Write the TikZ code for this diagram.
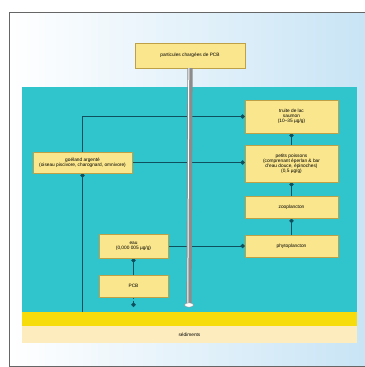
\documentclass[tikz,border=0pt]{standalone}
\usepackage{fontspec}
\setmainfont{Liberation Sans}
\usepackage{tikz}
\usetikzlibrary{arrows.meta, calc, backgrounds, positioning}
\usepackage{xcolor}
\definecolor{lake}{RGB}{48,196,204}
\definecolor{boxfill}{RGB}{250,230,140}
\definecolor{boxline}{RGB}{190,160,70}
\definecolor{flowline}{RGB}{15,80,95}
\definecolor{bedcol}{RGB}{246,220,10}
\definecolor{sedcol}{RGB}{253,236,190}
\definecolor{sky}{RGB}{200,228,245}
\tikzset{
  box/.style    ={draw=boxline, fill=boxfill, line width=0.6pt, align=center, inner sep=1pt, font=\fontsize{6.8}{7.2}\selectfont},
  band/.style   ={inner sep=0pt, minimum width=16.75cm, font=\fontsize{6.8}{7.2}\selectfont},
  flow/.style   ={-{Circle[length=2.2mm]}, line width=0.8pt, draw=flowline},        % transfer of PCB
  settle/.style ={flow, densely dashed},                                             % deposit to the bottom
  pipe/.style   ={line width=2.6mm, draw=black!45},
}
\begin{document}
\begin{tikzpicture}[x=0.05cm, y=-0.05cm]
  \useasboundingbox (0,0) rectangle (365,367);
  % boxes
  \node[box, minimum width=5.5cm,  minimum height=1.25cm] (src)   at (190,55.5)   {particules chargées de PCB};
  \node[box, minimum width=4.65cm, minimum height=1.65cm] (trout) at (291.5,116.5) {truite de lac\\saumon\\(10--35 µg/g)};
  \node[box, minimum width=4.65cm, minimum height=1.85cm] (fish)  at (291.5,163.5) {petits poissons\\(comprenant éperlan \& bar\\d'eau douce, épinoches)\\(0,5 µg/g)};
  \node[box, minimum width=4.65cm, minimum height=1.1cm]  (zoo)   at (291.5,207.5) {zooplancton};
  \node[box, minimum width=4.65cm, minimum height=1.1cm]  (phyto) at (291.5,246)   {phytoplancton};
  \node[box, minimum width=4.95cm, minimum height=1.05cm] (gull)  at (82.5,162.5)  {goéland argenté\\(oiseau piscivore, charognard, omnivore)};
  \node[box, minimum width=3.45cm, minimum height=1.2cm]  (water) at (133.5,246)   {eau\\(0,000 005 µg/g)};
  \node[box, minimum width=3.45cm, minimum height=1.1cm]  (pcb)   at (133.5,286)   {PCB};
  \coordinate (pdot) at (133.5,307);
  \coordinate (pend) at (189,305);
  \begin{scope}[on background layer]
    % frame and water
    \shade[left color=white, right color=sky] (9,12) rectangle (368,366);
    \draw[black!60, line width=0.8pt] (368,12) -- (9,12) -- (9,366) -- (368,366);
    \fill[lake] (22,87) rectangle (357,312);
    \node[band, fill=bedcol, minimum height=0.7cm]  (bed) at (189.5,319)   {};
    \node[band, fill=sedcol, minimum height=0.85cm] (sed) at (189.5,334.5) {sédiments};
    % links
    \draw[flow] (gull.north) |- (trout.west);
    \draw[flow] (gull.east) -- (fish.west |- gull.east);
    \draw[flow] (bed.north -| gull) -- (gull.south);
    \draw[flow] (fish) -- (trout);
    \draw[flow] (zoo) -- (fish);
    \draw[flow] (phyto) -- (zoo);
    \draw[flow] (water.east) -- (phyto.west |- water.east);
    \draw[flow] (pcb) -- (water);
    \draw[settle] (pcb.south) -- (pdot);
  \end{scope}
  % falling particles
  \draw[pipe] (src.south) -- (pend);
  \draw[white, line width=0.5mm] ($(src.south)+(-1.2,0)$) -- ($(pend)+(-1.2,0)$);
  \draw[black!45, fill=white, line width=0.5pt] (pend) ellipse (4.5 and 2.2);
\end{tikzpicture}
\end{document}
